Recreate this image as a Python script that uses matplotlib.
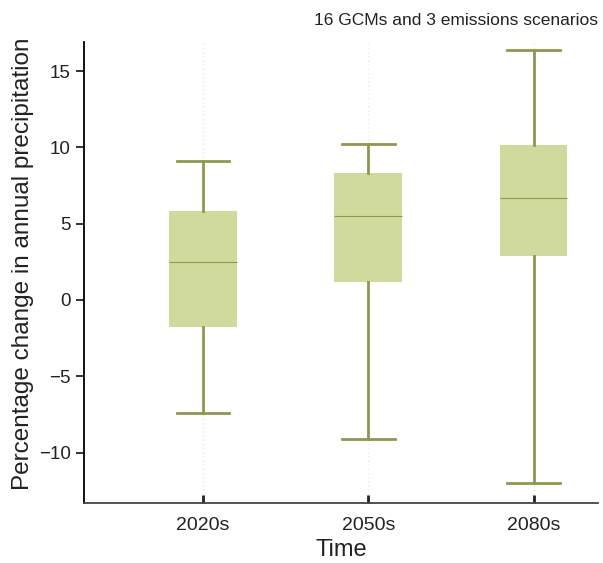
import matplotlib
matplotlib.use("Agg")
import matplotlib.pyplot as plt

plt.rcParams["font.family"] = ["Liberation Sans", "DejaVu Sans"]

# Box statistics (percent change)
periods = ["2020s", "2050s", "2080s"]
whisker_low = [-7.4, -9.1, -12.0]
q1 = [-1.75, 1.2, 2.85]
median = [2.5, 5.5, 6.7]
q3 = [5.85, 8.35, 10.15]
whisker_high = [9.1, 10.2, 16.4]

box_fill = "#d0da9c"
line_col = "#8a9a50"

stats = []
for i, p in enumerate(periods):
    stats.append({"label": p, "whislo": whisker_low[i], "q1": q1[i], "med": median[i],
                  "q3": q3[i], "whishi": whisker_high[i], "fliers": []})

fig = plt.figure(figsize=(6.03, 5.63), dpi=100)
ax = fig.add_axes([0.1393, 0.1066, 0.8524, 0.8188])

positions = [1, 2, 3]
# faint dotted vertical gridlines at each category
for x in positions:
    ax.axvline(x, color="#eef0c8", lw=1, ls=(0, (1, 2)), zorder=0)

ax.bxp(stats, positions=positions, widths=0.41, patch_artist=True, showfliers=False,
       boxprops=dict(facecolor=box_fill, edgecolor=box_fill, linewidth=0),
       medianprops=dict(color=line_col, linewidth=0.8),
       whiskerprops=dict(color=line_col, linewidth=2),
       capprops=dict(color=line_col, linewidth=2),
       capwidths=0.32)

ax.set_xlim(0.28, 3.39)
ax.set_ylim(-13.3, 16.9)
ax.set_yticks([-10, -5, 0, 5, 10, 15])
ax.set_yticklabels(["\u221210", "\u22125", "0", "5", "10", "15"])
ax.set_xticks(positions)
ax.set_xticklabels(periods)

ax.spines["top"].set_visible(False)
ax.spines["right"].set_visible(False)
ax.spines["left"].set_linewidth(1.3)
ax.spines["bottom"].set_linewidth(1.3)
ax.spines["bottom"].set_color("#444444")
ax.tick_params(axis="y", direction="out", length=6, width=1.3, labelsize=13.5, colors="#222222")
ax.tick_params(axis="x", direction="in", length=6, width=2, labelsize=14, pad=10, colors="#222222")

ax.set_xlabel("Time", fontsize=17, color="#222222", labelpad=4)
ax.set_ylabel("Percentage change in annual precipitation", fontsize=17.5, color="#222222")
ax.yaxis.set_label_coords(-0.097, 0.518)

fig.text(0.992, 0.963, "16 GCMs and 3 emissions scenarios", ha="right", va="center",
         fontsize=12.5, color="#222222")

fig.savefig("out.png", dpi=100)
